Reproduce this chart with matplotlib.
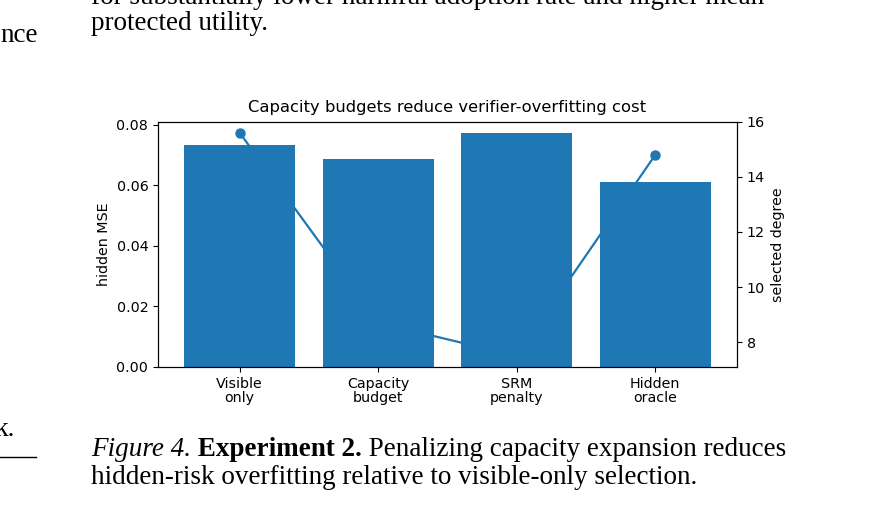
import numpy as np
import matplotlib
matplotlib.use('Agg')
import matplotlib.pyplot as plt
from matplotlib.ticker import MultipleLocator

methods = ["Visible\nonly", "Capacity\nbudget", "SRM\npenalty", "Hidden\noracle"]
hidden_mse = [0.0734, 0.0687, 0.0771, 0.0612]
selected_degree = [15.6, 8.7, 7.5, 14.8]

W, H = 883, 505
fig = plt.figure(figsize=(W / 100, H / 100), dpi=100)

# axes placed in pixel coords of the page screenshot
left, right, top, bottom = 158, 737, 121.7, 367
ax = fig.add_axes([left / W, 1 - bottom / H, (right - left) / W, (bottom - top) / H])
x = np.arange(len(methods))
ax.bar(x, hidden_mse, width=0.8, color='C0')
ax.set_xticks(x)
ax.set_xticklabels(methods, fontsize=10.3, linespacing=1.0)
ax.yaxis.set_major_locator(MultipleLocator(0.02))
ax.tick_params(axis='y', labelsize=10.3)
ax.set_ylabel("hidden MSE", fontsize=10.3)
ax.set_title("Capacity budgets reduce verifier-overfitting cost", fontsize=11.8, pad=7)

ax2 = ax.twinx()
ax2.plot(x, selected_degree, '-o', color='C0', markersize=6.5, linewidth=1.6)
ax2.yaxis.set_major_locator(MultipleLocator(2))
ax2.set_ylabel("selected degree", fontsize=10.3)
ax2.tick_params(axis='y', labelsize=10.3)

# surrounding page text
serif = 'Liberation Serif'
fs = 19.5
fig.text(91 / W, 1 + 3 / H, "for substantially lower harmful adoption rate and higher mean",
         family=serif, fontsize=fs, va='center', ha='left')
fig.text(91 / W, 1 - 23 / H, "protected utility.", family=serif, fontsize=fs, va='center', ha='left')
fig.text(0, 1 - 36 / H, "nce", family=serif, fontsize=fs, va='center', ha='left')
fig.text(-0.006, 1 - 430 / H, "k.", family=serif, fontsize=fs, va='center', ha='left')
fig.add_artist(plt.Line2D([0, 36 / W], [1 - 457 / H, 1 - 457 / H], color='black', linewidth=1))

renderer = fig.canvas.get_renderer()
pieces = [("Figure 4.", 'italic', 'normal'), (" Experiment 2.", 'normal', 'bold'),
          (" Penalizing capacity expansion reduces", 'normal', 'normal')]
xpos = 91
for txt, st, wt in pieces:
    t = fig.text(xpos / W, 1 - 449 / H, txt, family=serif, fontsize=fs, style=st,
                 weight=wt, va='center', ha='left')
    xpos += t.get_window_extent(renderer).width
fig.text(91 / W, 1 - 477 / H, "hidden-risk overfitting relative to visible-only selection.",
         family=serif, fontsize=fs, va='center', ha='left')

fig.savefig('out.png', dpi=100)
